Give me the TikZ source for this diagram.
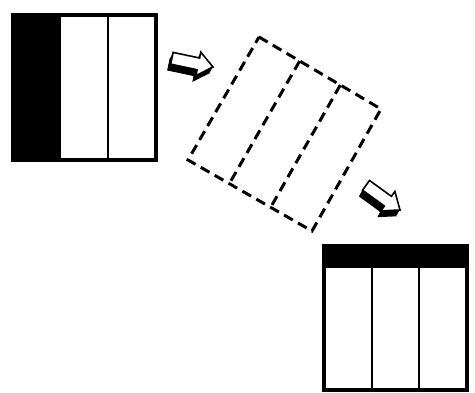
\documentclass[tikz,border=0pt]{standalone}
\usepackage{tikz}
\usetikzlibrary{calc}
\tikzset{
  panel/.style     = {draw,line width=3.2pt},
  divider/.style   = {line width=2.8pt},
  band/.style      = {fill=black},
  dashframe/.style = {line width=3pt,dash pattern=on 10pt off 6pt,line join=miter},
  arrbody/.style   = {fill=white,draw,line width=1.6pt,line join=miter},
  arrshade/.style  = {fill=black},
}
% block arrow with its black extrusion: #1 tip, #2 angle
\newcommand{\shadedarrow}[2]{%
  \foreach \k in {1,...,7}
    \fill[arrshade,shift={($(#1)+(-0.5*\k,0.9*\k)$)},rotate=#2]
      (0,0) -- (-15,-12) -- (-15,-6) -- (-42,-6) -- (-42,6) -- (-15,6) -- (-15,12) -- cycle;
  \draw[arrbody,shift={(#1)},rotate=#2]
      (0,0) -- (-15,-12) -- (-15,-6) -- (-42,-6) -- (-42,6) -- (-15,6) -- (-15,12) -- cycle;
}

\begin{document}
\begin{tikzpicture}[x=1pt,y=-1pt]
  \useasboundingbox (0,0) rectangle (475,392);

  % first panel, band on the left
  \fill[band] (13,15) rectangle (61,160);
  \draw[divider] (108,15) -- (108,160);
  \draw[panel] (13,15) rectangle (156,160);

  % turned panel
  \coordinate (T) at (259,37);
  \coordinate (R) at (381,109);
  \coordinate (B) at (312,231);
  \coordinate (L) at (188,160);
  \draw[dashframe] (T) -- (R) -- (B) -- (L) -- cycle;
  \foreach \f in {1/3,2/3}
    \draw[dashframe] ($(T)!\f!(R)$) -- ($(L)!\f!(B)$);

  % last panel, band on top
  \fill[band] (324,246) rectangle (467,268);
  \foreach \xx in {372,419}
    \draw[divider] (\xx,268) -- (\xx,390);
  \draw[panel] (324,246) rectangle (467,390);

  % arrows
  \coordinate (tipA) at (213,67);
  \coordinate (tipB) at (400,210);
  \shadedarrow{tipA}{-12}
  \shadedarrow{tipB}{-36}
\end{tikzpicture}
\end{document}
